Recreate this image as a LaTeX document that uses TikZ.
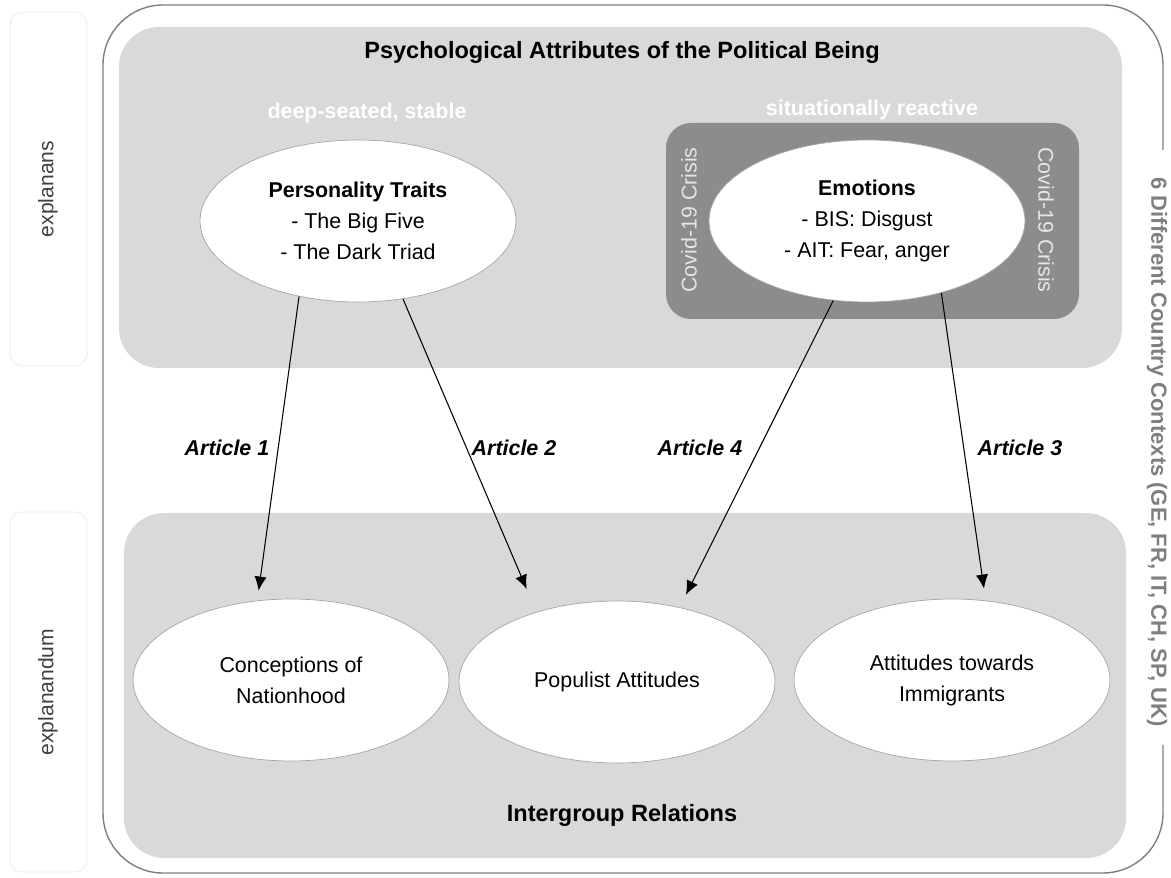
\documentclass[tikz,border=0pt]{standalone}
\usepackage{fontspec}
\setmainfont{Liberation Sans}
\usetikzlibrary{arrows.meta}
\usetikzlibrary{shapes.geometric}

\definecolor{boxgray}{HTML}{D9D9D9}
\definecolor{crisisgray}{HTML}{8C8C8C}
\definecolor{framegray}{HTML}{7F7F7F}
\definecolor{sidegray}{HTML}{E8E8E8}

\tikzset{
	oval/.style={ellipse, draw=black!35, fill=white, minimum width=6.32cm, minimum height=3.24cm, inner sep=0pt, align=center, font=\fontsize{12.2}{17.6}\selectfont},
	article/.style={font=\fontsize{12.2}{14}\selectfont\bfseries\itshape},
	heading/.style={font=\fontsize{13.4}{16}\selectfont\bfseries},
	subheading/.style={font=\fontsize{12.2}{14}\selectfont\bfseries, text=white},
	crisis/.style={font=\fontsize{12.2}{14}\selectfont, text=black!10},
	sidelabel/.style={rotate=90, font=\fontsize{12}{14}\selectfont, text=black!75}
}

\begin{document}
\begin{tikzpicture}[x=0.02cm, y=-0.02cm, >={Latex[length=8pt,width=7pt]}]

	\useasboundingbox (0,0) rectangle (1171,878);

	%side boxes
	\draw[sidegray, rounded corners=0.25cm] (10,12) rectangle (87,366);
	\draw[sidegray, rounded corners=0.25cm] (10,512) rectangle (87,872);
	\node[sidelabel] (ExplanansLabel) at (48,189) {explanans};
	\node[sidelabel] (ExplanandumLabel) at (48,692) {explanandum};

	%outer frame, open on the right for the country label
	\draw[framegray, line width=0.8pt, rounded corners=1.2cm] (1163,150) -- (1163,5) -- (103,5) -- (103,873) -- (1163,873) -- (1163,745);
	\node[rotate=-90, inner sep=0pt, text=framegray, font=\fontsize{12.5}{14}\selectfont\bfseries] (CountryLabel) at (1157,452) {6 Different Country Contexts (GE, FR, IT, CH, SP, UK)};

	%upper region
	\fill[boxgray, rounded corners=0.8cm] (119,27) rectangle (1122,368);
	\node[heading] (PsyTitle) at (622,52) {Psychological Attributes of the Political Being};
	\node[subheading] (StableLabel) at (367,113) {deep-seated, stable};
	\node[subheading] (ReactiveLabel) at (872,110) {situationally reactive};
	\fill[crisisgray, rounded corners=0.5cm] (666,123) rectangle (1079,319);

	\node[oval] (PersTraits) at (358,221) {\textbf{Personality Traits}\\- The Big Five\\- The Dark Triad};
	\node[oval] (Emotions) at (867,221) {\textbf{Emotions}\\- BIS: Disgust\\- AIT: Fear, anger};
	\node[crisis, rotate=90] (CrisisLeft) at (689,220) {Covid-19 Crisis};
	\node[crisis, rotate=-90] (CrisisRight) at (1046,220) {Covid-19 Crisis};

	%lower region
	\fill[boxgray, rounded corners=0.8cm] (124,513) rectangle (1126,858);
	\node[oval] (NationConc) at (291,680) {Conceptions of\\Nationhood};
	\node[oval] (PopAtt) at (617,682) {Populist Attitudes};
	\node[oval] (ImmAtt) at (952,680) {Attitudes towards\\Immigrants};
	\node[heading] (GroupTitle) at (622,815) {Intergroup Relations};

	%articles
	\draw[->, line width=0.6pt, shorten >=0.2cm] (PersTraits.-128) -- (NationConc.113);
	\draw[->, line width=0.6pt, shorten >=0.5cm] (PersTraits.-60) -- (PopAtt.139);
	\draw[->, line width=0.6pt, shorten >=0.28cm] (Emotions.-113) -- (PopAtt.50);
	\draw[->, line width=0.6pt, shorten >=0.24cm] (Emotions.-44) -- (ImmAtt.67);
	\node[article] (ArtOne) at (227,448) {Article 1};
	\node[article] (ArtTwo) at (514,448) {Article 2};
	\node[article] (ArtFour) at (700,448) {Article 4};
	\node[article] (ArtThree) at (1020,448) {Article 3};
\end{tikzpicture}
\end{document}
